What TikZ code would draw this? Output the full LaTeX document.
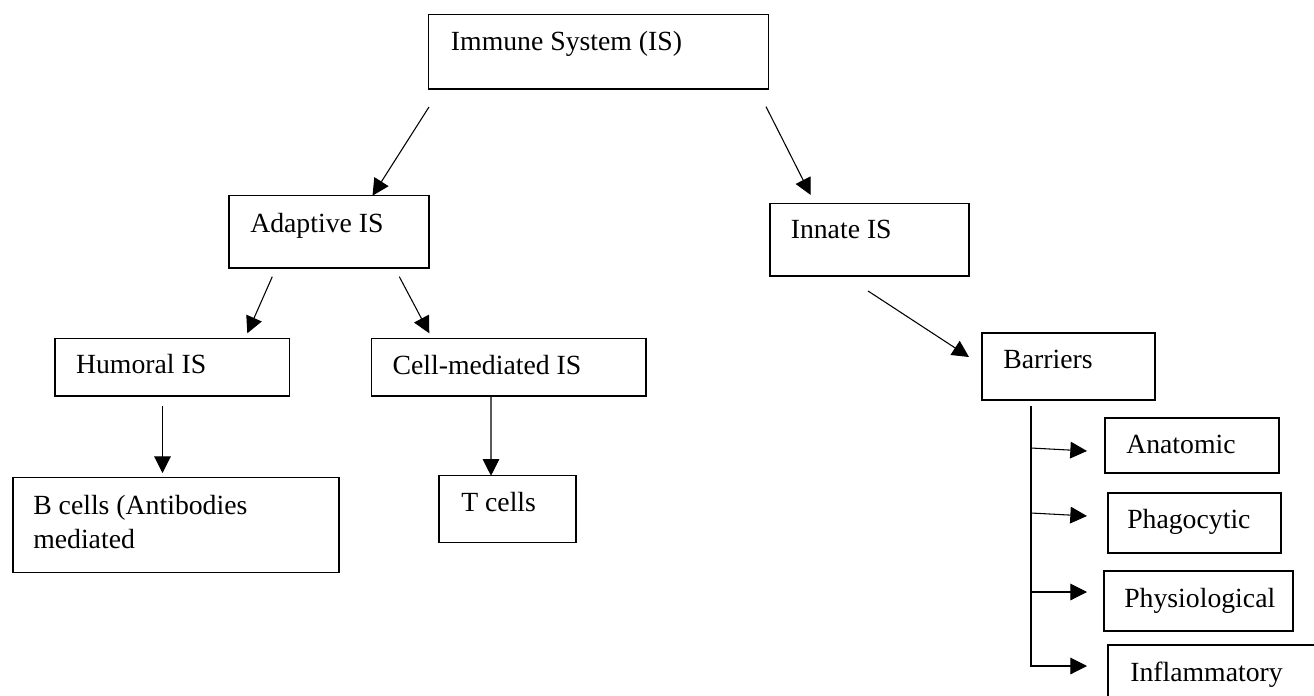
\documentclass[tikz,border=0pt]{standalone}
\usepackage{fontspec}
\setmainfont{Liberation Serif}
\usetikzlibrary{arrows.meta,calc}
\begin{document}
\begin{tikzpicture}[x=0.75pt,y=-0.75pt,
  box/.style={draw,line width=0.9pt,rectangle,inner sep=0pt,outer sep=0pt,anchor=north west},
  lbl/.style={anchor=base west,inner sep=0pt,font=\fontsize{20.8}{25}\selectfont},
  arr/.style={line width=0.8pt,-{Triangle[length=12.5pt,width=12.5pt]}}]
\useasboundingbox (0,0) rectangle (1314,696);
\clip (0,0) rectangle (1314,696);
% boxes
\node[box,minimum width=254.7pt,minimum height=56pt] (imm) at (428.7,14.3) {};
\node[box,minimum width=150pt,minimum height=54.2pt] (ad) at (229,195.7) {};
\node[box,minimum width=149.25pt,minimum height=54.5pt] (inn) at (770,203.3) {};
\node[box,minimum width=176pt,minimum height=43.3pt] (hum) at (55,338.3) {};
\node[box,minimum width=205.7pt,minimum height=43.3pt] (cell) at (371.7,338.3) {};
\node[box,minimum width=129.75pt,minimum height=50.25pt] (bar) at (982,333) {};
\node[box,minimum width=244.5pt,minimum height=71.25pt] (b) at (13,477.7) {};
\node[box,minimum width=102.75pt,minimum height=50.25pt] (t) at (439,475.7) {};
\node[box,minimum width=130.5pt,minimum height=41.25pt] (ana) at (1105,418) {};
\node[box,minimum width=129.75pt,minimum height=45pt] (pha) at (1108,493) {};
\node[box,minimum width=141.75pt,minimum height=45pt] (phy) at (1104,571) {};
\node[box,minimum width=166.5pt,minimum height=56.25pt] (inf) at (1108,645) {};
% texts
\node[lbl] (immt) at (450.7,50) {Immune System (IS)};
\node[lbl] (adt) at (250,232.3) {Adaptive IS};
\node[lbl] (innt) at (790.5,238) {Innate IS};
\node[lbl] (humt) at (75.8,373) {Humoral IS};
\node[lbl] (cellt) at (392.3,374.3) {Cell-mediated IS};
\node[lbl] (bart) at (1003,368) {Barriers};
\node[lbl] (bta) at (33,514) {B cells (Antibodies};
\node[lbl] (btb) at (33,548) {mediated};
\node[lbl] (tt) at (461,511.7) {T cells};
\node[lbl] (anat) at (1126,453) {Anatomic};
\node[lbl] (phat) at (1127,528) {Phagocytic};
\node[lbl] (phyt) at (1124,607) {Physiological};
\node[lbl] (inft) at (1130,681.7) {Inflammatory};
% connectors
\draw[arr] ($(imm.south west)+(0.3,18)$) -- ($(ad.north west)+(143.5,0)$);
\draw[arr] ($(imm.south east)+(-2.3,17.7)$) -- ($(inn.north west)+(40.7,-8.3)$);
\draw[arr] ($(ad.south west)+(43.3,8.7)$) -- ($(hum.north west)+(192.3,-5)$);
\draw[arr] ($(ad.south west)+(170.3,8.7)$) -- ($(cell.north west)+(57.6,-5)$);
\draw[arr] ($(hum.south west)+(107.5,10)$) -- ($(b.north west)+(149.5,-4.7)$);
\draw[arr] ($(cell.south west)+(119.3,0)$) -- ($(t.north west)+(52,0)$);
\draw[arr] ($(inn.south west)+(98,15)$) -- ($(bar.north west)+(-13,24)$);
\coordinate (trunk) at ($(bar.south west)+(49,6)$);
\draw[arr] ($(trunk)+(0,42)$) -- ($(ana.north west)+(-18,33)$);
\draw[arr] ($(trunk)+(0,107)$) -- ($(pha.north west)+(-21,23)$);
\draw[arr] ($(trunk)+(0,186)$) -- ($(phy.north west)+(-17,21)$);
\draw[arr] (trunk) |- ($(inf.north west)+(-21,21)$);
\end{tikzpicture}
\end{document}
